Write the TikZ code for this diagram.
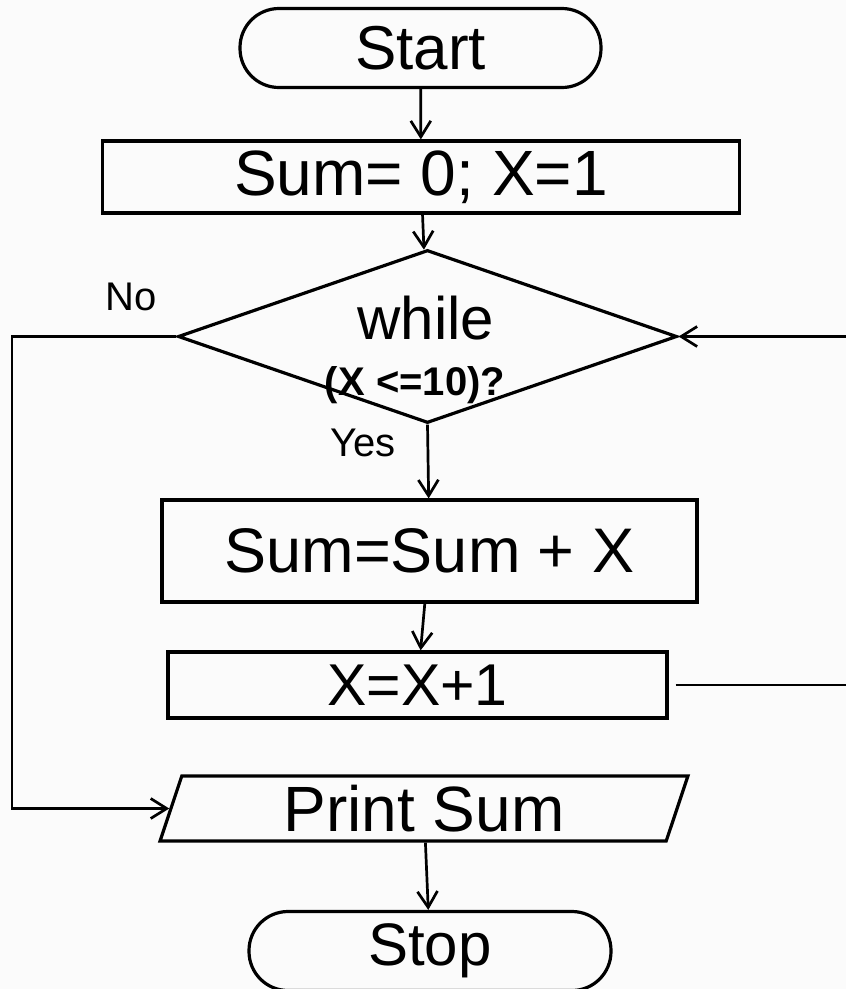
\documentclass[tikz,border=0pt]{standalone}
\usepackage{fontspec}
\setmainfont{Liberation Sans}
\usetikzlibrary{shapes.geometric,arrows.meta}
\definecolor{paper}{rgb}{0.985,0.985,0.985}
\newcommand{\pts}[1]{\fontsize{#1}{#1}\selectfont}
\begin{document}
\begin{tikzpicture}[x=1pt,y=-1pt,
  outline/.style={draw=black,line width=3.2pt,inner sep=0pt},
  terminal/.style={outline,rectangle,rounded corners=39pt,minimum height=79pt},
  process/.style={outline,rectangle},
  decision/.style={outline,diamond},
  iobox/.style={outline,trapezium,trapezium stretches=true,
    trapezium left angle=75,trapezium right angle=105},
  conn/.style={draw=black,line width=2.7pt,
    -{Straight Barb[length=16pt,width=20pt]}},
  answer/.style={font=\pts{40},inner sep=0pt}
]
% page
\fill[paper] (0,0) rectangle (846,989);
\useasboundingbox (0,0) rectangle (846,989);

% shapes
\node[terminal,minimum width=361pt,font=\pts{62}] (start) at (420.5,48) {Start};
\node[process,minimum width=637pt,minimum height=72pt,font=\pts{64}] (init) at (421,177) {Sum= 0; X=1};
\node[decision,minimum width=499pt,minimum height=173pt] (dec) at (427.5,336.5) {};
\node[font=\pts{60},inner sep=0pt] (cond1) at (426,318) {while};
\node[font=\bfseries\pts{40},inner sep=0pt] (cond2) at (415,385) {(X <=10)?};
\node[process,minimum width=535pt,minimum height=102pt,font=\pts{63}] (body) at (429.5,551) {Sum=Sum + X};
\node[process,minimum width=499pt,minimum height=66pt,font=\pts{59}] (incr) at (417.5,685) {X=X+1};
\node[iobox,minimum width=528pt,minimum height=65pt,font=\pts{64}] (print) at (424,808.5) {Print Sum};
\node[terminal,minimum width=362pt,font=\pts{60}] (stop) at (430,951) {Stop};

% branch labels
\node[answer] (no) at (131,297) {No};
\node[answer] (yes) at (363,443) {Yes};

% loop turning points
\coordinate (rtop) at (870,336.5);
\coordinate (rbot) at (870,685);
\coordinate (ltop) at (12,336.5);

% connectors
\draw[conn] (start) -- (init);
\draw[conn] (init) -- (dec);
\draw[conn] (dec.south) -- (body);
\draw[conn] (body) -- (incr);
\draw[conn] (print) -- (stop);
\draw[conn] ([xshift=7pt]incr.east) -- (rbot) -- (rtop) -- (dec.east);
\draw[conn] (dec.west) -- (ltop) |- (print.west);
\end{tikzpicture}
\end{document}
